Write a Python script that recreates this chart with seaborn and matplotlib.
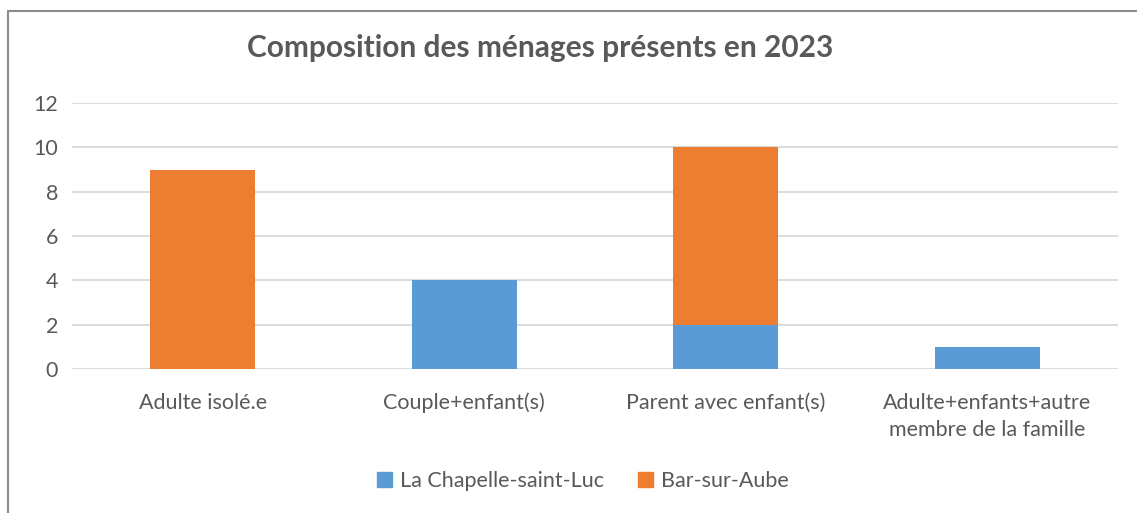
import pandas as pd
import seaborn as sns
import matplotlib.pyplot as plt
from matplotlib.patches import Patch
from matplotlib.lines import Line2D

# données du graphique
categories = ['Adulte isolé.e', 'Couple+enfant(s)', 'Parent avec enfant(s)',
              'Adulte+enfants+autre\nmembre de la famille']
chapelle = [0, 4, 2, 1]
bar_sur_aube = [9, 0, 8, 0]
series_names = ['La Chapelle-saint-Luc', 'Bar-sur-Aube']

blue = '#5B9BD5'
orange = '#ED7D31'
text_color = '#595959'

df = pd.DataFrame({'cat': categories, 'chapelle': chapelle, 'bar': bar_sur_aube})
df['total'] = df['chapelle'] + df['bar']

sns.set_style('white')
plt.rcParams['font.family'] = ['Lato', 'DejaVu Sans']

fig = plt.figure(figsize=(11.37, 5.13), dpi=100)
ax = fig.add_axes([72 / 1137, 1 - 369 / 513, (1118 - 72) / 1137, (369 - 103) / 513])

# barres empilées : total en orange, puis la partie bleue par-dessus
sns.barplot(data=df, x='cat', y='total', color=orange, saturation=1, width=0.4,
            linewidth=0, ax=ax, zorder=3)
sns.barplot(data=df, x='cat', y='chapelle', color=blue, saturation=1, width=0.4,
            linewidth=0, ax=ax, zorder=3)

ax.set_ylim(0, 12)
ax.set_xlim(-0.5, 3.5)
ax.set_yticks(range(0, 13, 2))
ax.yaxis.grid(True, color='#D9D9D9', linewidth=1.3, zorder=0)
ax.set_axisbelow(True)
for s in ax.spines.values():
    s.set_visible(False)
ax.tick_params(axis='both', length=0, labelsize=15.5, colors=text_color)
ax.tick_params(axis='x', pad=17)
ax.tick_params(axis='y', pad=10)
for lbl in ax.get_xticklabels():
    lbl.set_linespacing(1.45)
ax.set_xlabel('')
ax.set_ylabel('')

fig.text(540 / 1137, 1 - 48 / 513, 'Composition des ménages présents en 2023',
         ha='center', va='center', fontsize=21.5, fontweight='bold', color=text_color)

handles = [Patch(color=blue, label=series_names[0]),
           Patch(color=orange, label=series_names[1])]
fig.legend(handles=handles, loc='center', bbox_to_anchor=(583 / 1137, 1 - 481 / 513),
           ncol=2, frameon=False, fontsize=15.5, labelcolor=text_color,
           handlelength=0.7, handleheight=0.7, handletextpad=0.35, columnspacing=1.6)

# cadre du graphique (style Excel)
fig.add_artist(Line2D([8 / 1137, 8 / 1137], [0, 1 - 11 / 513], color='#8C8C8C', linewidth=1.5))
fig.add_artist(Line2D([8 / 1137, 1], [1 - 11 / 513, 1 - 11 / 513], color='#8C8C8C', linewidth=1.5))

fig.savefig('out.png', dpi=100, facecolor='white')
